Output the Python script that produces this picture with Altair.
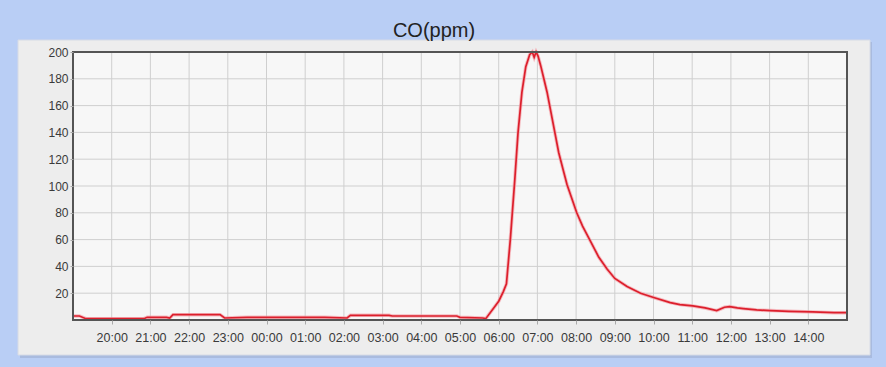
import altair as alt
import pandas as pd

title_text = "CO(ppm)"

times = [
    "2020-01-01T19:00", "2020-01-01T19:10", "2020-01-01T19:20", "2020-01-01T20:00",
    "2020-01-01T20:50", "2020-01-01T20:55", "2020-01-01T21:25", "2020-01-01T21:30",
    "2020-01-01T21:35", "2020-01-01T22:10", "2020-01-01T22:48", "2020-01-01T22:55",
    "2020-01-01T23:30", "2020-01-02T00:30", "2020-01-02T01:30", "2020-01-02T02:05",
    "2020-01-02T02:10", "2020-01-02T02:40", "2020-01-02T03:10", "2020-01-02T03:15",
    "2020-01-02T04:00", "2020-01-02T04:55", "2020-01-02T05:00", "2020-01-02T05:35",
    "2020-01-02T05:40", "2020-01-02T06:00", "2020-01-02T06:07", "2020-01-02T06:12",
    "2020-01-02T06:18", "2020-01-02T06:25", "2020-01-02T06:30", "2020-01-02T06:36",
    "2020-01-02T06:42", "2020-01-02T06:48", "2020-01-02T06:52", "2020-01-02T06:55",
    "2020-01-02T06:58", "2020-01-02T07:01", "2020-01-02T07:05", "2020-01-02T07:10",
    "2020-01-02T07:15", "2020-01-02T07:25", "2020-01-02T07:33", "2020-01-02T07:40",
    "2020-01-02T07:46", "2020-01-02T08:01", "2020-01-02T08:10", "2020-01-02T08:22",
    "2020-01-02T08:35", "2020-01-02T08:48", "2020-01-02T09:00", "2020-01-02T09:19",
    "2020-01-02T09:40", "2020-01-02T09:59", "2020-01-02T10:26", "2020-01-02T10:41",
    "2020-01-02T11:01", "2020-01-02T11:20", "2020-01-02T11:38", "2020-01-02T11:50",
    "2020-01-02T11:58", "2020-01-02T12:10", "2020-01-02T12:19", "2020-01-02T12:40",
    "2020-01-02T13:01", "2020-01-02T13:30", "2020-01-02T14:07", "2020-01-02T14:40",
    "2020-01-02T15:00",
]
co_ppm = [
    3.0, 3.0, 1.0, 1.0,
    1.0, 2.0, 2.0, 1.5,
    4.0, 4.0, 4.0, 1.5,
    2.0, 2.0, 2.0, 1.5,
    3.5, 3.5, 3.5, 3.0,
    3.0, 3.0, 2.0, 1.5,
    1.0, 14.0, 21.0, 27.0,
    60.0, 105.0, 140.0, 170.0,
    189.0, 198.0, 200.0, 196.0,
    200.0, 197.0, 190.0, 180.0,
    170.0, 145.0, 125.0, 112.0,
    101.0, 80.0, 70.0, 59.0,
    47.0, 38.0, 31.0, 25.0,
    20.0, 17.0, 13.0, 11.5,
    10.5, 9.0, 7.0, 9.5,
    10.0, 9.0, 8.5, 7.5,
    7.0, 6.5, 6.0, 5.5,
    5.5,
]

x_ticks = [
    (1, 20), (1, 21), (1, 22), (1, 23), (2, 0), (2, 1), (2, 2), (2, 3), (2, 4),
    (2, 5), (2, 6), (2, 7), (2, 8), (2, 9), (2, 10), (2, 11), (2, 12), (2, 13), (2, 14),
]
x_domain = [(1, 19), (2, 15)]
y_ticks = [20, 40, 60, 80, 100, 120, 140, 160, 180, 200]
y_domain = [0, 200]

W, H = 774, 268
FONT = "Liberation Sans"


def dt(d, h):
    return alt.DateTime(year=2020, month=1, date=d, hours=h)


def iso(d, h):
    return f"2020-01-0{d}T{h:02d}:00"


df = pd.DataFrame({"time": times, "co": co_ppm})
xgrid = pd.DataFrame({"t": [iso(d, h) for d, h in x_ticks]})
ygrid = pd.DataFrame({"v": [v for v in y_ticks if v < 200]})
one = pd.DataFrame({"a": [0]})

xscale = alt.Scale(domain=[dt(*v) for v in x_domain])
yscale = alt.Scale(domain=y_domain, nice=False, zero=False)

xaxis = alt.Axis(
    values=[dt(*v) for v in x_ticks],
    format="%H:%M",
    grid=False,
    domain=False,
    tickSize=4,
    tickColor="#aaaaaa",
    labelPadding=7,
    labelFont=FONT,
    labelFontSize=12.5,
    labelColor="#3a3a3a",
    zindex=1,
)
yaxis = alt.Axis(
    values=y_ticks,
    grid=False,
    domain=False,
    tickSize=3,
    tickColor="#aaaaaa",
    labelPadding=2,
    labelFont=FONT,
    labelFontSize=12,
    labelColor="#3a3a3a",
    zindex=1,
)

shadow = alt.Chart(one).mark_rect(fill="#a9bbdf").encode(
    x=alt.value(-53), x2=alt.value(799), y=alt.value(-10), y2=alt.value(306)
)
panel = alt.Chart(one).mark_rect(fill="#ededed", stroke="#d6dbe6", strokeWidth=1).encode(
    x=alt.value(-55), x2=alt.value(797), y=alt.value(-12), y2=alt.value(303)
)
plotbg = alt.Chart(one).mark_rect(fill="#f7f7f7").encode(
    x=alt.value(0), x2=alt.value(W), y=alt.value(0), y2=alt.value(H)
)
vgrid = alt.Chart(xgrid).mark_rule(color="#cfcfcf", strokeWidth=1).encode(
    x=alt.X("t:T", scale=xscale, title=None, axis=xaxis)
)
hgrid = alt.Chart(ygrid).mark_rule(color="#cfcfcf", strokeWidth=1).encode(
    y=alt.Y("v:Q", scale=yscale, title=None, axis=yaxis)
)
halo = alt.Chart(df).mark_line(color="#f3a3aa", strokeWidth=3.5, opacity=0.7).encode(
    x=alt.X("time:T", scale=xscale, title=None, axis=xaxis),
    y=alt.Y("co:Q", scale=yscale, title=None, axis=yaxis),
)
line = alt.Chart(df).mark_line(color="#dc1f2c", strokeWidth=1.7).encode(
    x=alt.X("time:T", scale=xscale, title=None, axis=xaxis),
    y=alt.Y("co:Q", scale=yscale, title=None, axis=yaxis),
)
border = alt.Chart(one).mark_rect(fill=None, stroke="#555555", strokeWidth=2).encode(
    x=alt.value(0), x2=alt.value(W), y=alt.value(0), y2=alt.value(H)
)

chart = (
    alt.layer(shadow, panel, plotbg, vgrid, hgrid, halo, line, border)
    .properties(
        width=W,
        height=H,
        background="#b9cef5",
        padding={"left": 73, "top": 52, "right": 39, "bottom": 47},
        autosize=alt.AutoSizeParams(type="none"),
        title=alt.TitleParams(
            title_text, font=FONT, fontSize=20, fontWeight="normal", color="#222222",
            anchor="middle", dx=-26, offset=-1,
        ),
    )
    .configure_view(stroke=None)
)

chart.save("out.html", embed_options={"renderer": "svg", "actions": False})
